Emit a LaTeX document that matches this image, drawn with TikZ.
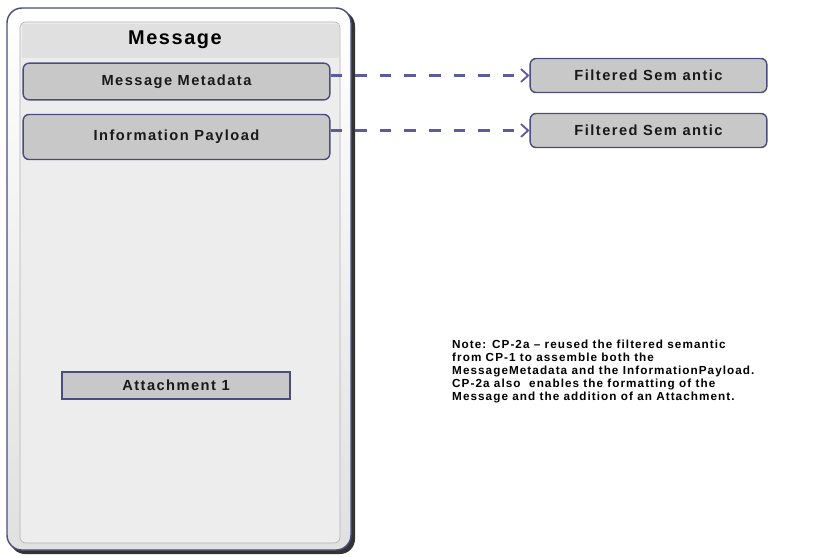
\documentclass[tikz,border=0pt]{standalone}
\usepackage{fontspec}
\setmainfont{Liberation Sans}
\newfontfamily\boxfont[LetterSpace=10]{Liberation Sans}
\newfontfamily\notefont[LetterSpace=9]{Liberation Sans}
\newfontfamily\titlefont[LetterSpace=8]{Liberation Sans}
\usetikzlibrary{positioning}
\usetikzlibrary{calc}
\usetikzlibrary{arrows.meta}
\definecolor{boxgray}{HTML}{C8C8C8}
\definecolor{boxline}{HTML}{4C4C7C}
\definecolor{arrowblue}{HTML}{5C5C9C}
\definecolor{panel}{HTML}{EDEDED}
\definecolor{header}{HTML}{E0E0E0}
\tikzset{partbox/.style={draw=boxline, fill=boxgray, line width=1.2pt, rounded corners=5pt, font=\boxfont\bfseries\fontsize{12.5}{14}\selectfont, minimum height=#1, text=black!90}}
\tikzset{partbox/.default=1.1cm}
\tikzset{flow/.style={draw=arrowblue, line width=1.8pt, dash pattern=on 10pt off 11pt, -{Straight Barb[length=6pt,width=11pt,line width=1.6pt]}}}

\begin{document}
\begin{tikzpicture}[x=0.03cm,y=-0.03cm]
\useasboundingbox (0,0) rectangle (816,557);
\def\rr{15}

% message frame
\fill [black!80, rounded corners=\rr*0.03cm] (10,11) rectangle (355,554);
\draw [line width=1.2pt, draw=boxline, top color=white, bottom color=black!12, rounded corners=\rr*0.03cm] (7,8) rectangle (351,550);
\draw [line width=0.6pt, draw=black!30, fill=panel, rounded corners=5pt] (20,22) rectangle (340,543);
\fill [header] (21.5,23.5) rectangle (338.5,58);
\node [font=\titlefont\bfseries\fontsize{17}{19}\selectfont] (title) at (175,40) {Message};

% parts of the message
\node [partbox=1.1cm, minimum width=9.2cm] (meta) at (176.5,81.5) {Message Metadata};
\node [partbox=1.35cm, minimum width=9.2cm] (payload) at (176.5,137) {Information Payload};
\node [partbox=0.8cm, rounded corners=0pt, minimum width=6.85cm, inner sep=2pt] (attach) at (176,385.5) {Attachment 1};

% filtered semantic
\node [partbox=1.02cm, minimum width=7.1cm] (sem1) at (648.5,75.5) {Filtered Sem antic};
\node [partbox=1.02cm, minimum width=7.1cm] (sem2) at (648.5,130.5) {Filtered Sem antic};

\draw [flow] (meta.east |- sem1.west) -- (sem1.west);
\draw [flow] (payload.east |- sem2.west) -- (sem2.west);

% note
\node [anchor=north west, align=left, inner sep=0pt, font=\notefont\bfseries\fontsize{10}{11.1}\selectfont] (note) at (452,340)
 {Note: CP-2a – reused the filtered semantic\\
  from CP-1 to assemble both the\\
  MessageMetadata and the InformationPayload.\\
  CP-2a also\ \ enables the formatting of the\\
  Message and the addition of an Attachment.};
\end{tikzpicture}
\end{document}
